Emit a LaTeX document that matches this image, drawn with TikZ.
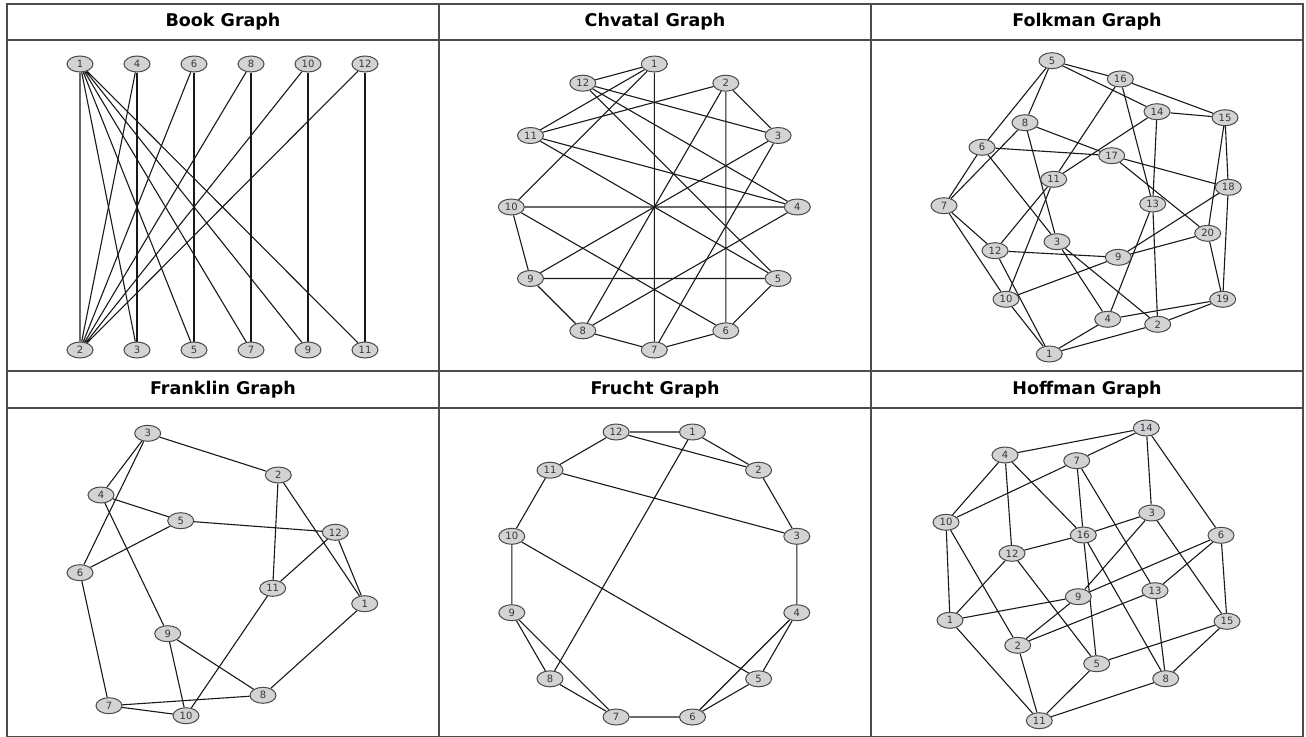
\documentclass[tikz,border=0pt]{standalone}
\usepackage{fontspec}
\setmainfont{DejaVu Sans}
\usepackage{tikz}
\usetikzlibrary{shapes.geometric,backgrounds}
\definecolor{vfill}{HTML}{D3D3D3}
\definecolor{vline}{HTML}{4A4A4A}
\definecolor{vtext}{HTML}{3A3440}
\tikzstyle{vertex} = [ellipse, minimum width=26pt, minimum height=16pt, inner sep=0pt, draw=vline, line width=1pt, fill=vfill, text=vtext, font=\fontsize{10}{11}\selectfont]
\tikzstyle{edge} = [line width=1.1pt, black!90]
\tikzstyle{title} = [font=\fontsize{17.5}{20}\selectfont\bfseries]
\tikzstyle{grid} = [line width=1.2pt, draw=black!70]

\begin{document}
\begin{tikzpicture}[x=1pt,y=-1pt]
 \useasboundingbox (0,0) rectangle (1306,736);
% titles
 \node[title] (tbook) at (223,22) {Book Graph};
 \node[title] (tchv) at (655,22) {Chvatal Graph};
 \node[title] (tfolk) at (1087,22) {Folkman Graph};
 \node[title] (tfran) at (223,389.5) {Franklin Graph};
 \node[title] (tfru) at (655,389.5) {Frucht Graph};
 \node[title] (thof) at (1087,389.5) {Hoffman Graph};
% book graph
 \node[vertex] (bk1) at (80,64) {1};
 \node[vertex] (bk4) at (137,64) {4};
 \node[vertex] (bk6) at (194,64) {6};
 \node[vertex] (bk8) at (251,64) {8};
 \node[vertex] (bk10) at (308,64) {10};
 \node[vertex] (bk12) at (365,64) {12};
 \node[vertex] (bk2) at (80,350) {2};
 \node[vertex] (bk3) at (137,350) {3};
 \node[vertex] (bk5) at (194,350) {5};
 \node[vertex] (bk7) at (251,350) {7};
 \node[vertex] (bk9) at (308,350) {9};
 \node[vertex] (bk11) at (365,350) {11};
% chvatal graph
 \node[vertex] (cv1) at (654.3,64) {1};
 \node[vertex] (cv2) at (725.8,83.2) {2};
 \node[vertex] (cv3) at (778.1,135.5) {3};
 \node[vertex] (cv4) at (797.3,207) {4};
 \node[vertex] (cv5) at (778.1,278.5) {5};
 \node[vertex] (cv6) at (725.8,330.8) {6};
 \node[vertex] (cv7) at (654.3,350) {7};
 \node[vertex] (cv8) at (582.8,330.8) {8};
 \node[vertex] (cv9) at (530.5,278.5) {9};
 \node[vertex] (cv10) at (511.3,207) {10};
 \node[vertex] (cv11) at (530.5,135.5) {11};
 \node[vertex] (cv12) at (582.8,83.2) {12};
% folkman graph
 \node[vertex] (fk5) at (1052,60.7) {5};
 \node[vertex] (fk16) at (1120.3,79) {16};
 \node[vertex] (fk14) at (1157,111.7) {14};
 \node[vertex] (fk15) at (1225,117.7) {15};
 \node[vertex] (fk8) at (1025,122.7) {8};
 \node[vertex] (fk6) at (982,147.3) {6};
 \node[vertex] (fk17) at (1111.7,155.7) {17};
 \node[vertex] (fk11) at (1053.7,179.3) {11};
 \node[vertex] (fk18) at (1228.3,187.3) {18};
 \node[vertex] (fk7) at (944,205.7) {7};
 \node[vertex] (fk13) at (1152.7,204) {13};
 \node[vertex] (fk20) at (1207.7,233.3) {20};
 \node[vertex] (fk3) at (1057,241.7) {3};
 \node[vertex] (fk12) at (995,250.7) {12};
 \node[vertex] (fk9) at (1118.3,257.3) {9};
 \node[vertex] (fk10) at (1006,299.3) {10};
 \node[vertex] (fk19) at (1222.7,299.3) {19};
 \node[vertex] (fk4) at (1107.7,319.3) {4};
 \node[vertex] (fk2) at (1157.7,324.3) {2};
 \node[vertex] (fk1) at (1049.3,354) {1};
% franklin graph
 \node[vertex] (fr3) at (147.7,433.3) {3};
 \node[vertex] (fr2) at (278.3,475) {2};
 \node[vertex] (fr4) at (101,495) {4};
 \node[vertex] (fr5) at (180.7,520.7) {5};
 \node[vertex] (fr12) at (335.3,532.3) {12};
 \node[vertex] (fr6) at (80,572.7) {6};
 \node[vertex] (fr11) at (272.7,588.3) {11};
 \node[vertex] (fr1) at (364.7,603.7) {1};
 \node[vertex] (fr9) at (167.7,633.7) {9};
 \node[vertex] (fr8) at (263,695.3) {8};
 \node[vertex] (fr7) at (109,705.7) {7};
 \node[vertex] (fr10) at (186,715.7) {10};
% frucht graph
 \node[vertex] (ft1) at (692.5,432) {1};
 \node[vertex] (ft2) at (758.6,470.2) {2};
 \node[vertex] (ft3) at (796.8,536.3) {3};
 \node[vertex] (ft4) at (796.8,612.7) {4};
 \node[vertex] (ft5) at (758.6,678.8) {5};
 \node[vertex] (ft6) at (692.5,717) {6};
 \node[vertex] (ft7) at (616.1,717) {7};
 \node[vertex] (ft8) at (550,678.8) {8};
 \node[vertex] (ft9) at (511.8,612.7) {9};
 \node[vertex] (ft10) at (511.8,536.3) {10};
 \node[vertex] (ft11) at (550,470.2) {11};
 \node[vertex] (ft12) at (616.1,432) {12};
% hoffman graph
 \node[vertex] (hf14) at (1146.3,428) {14};
 \node[vertex] (hf4) at (1005,455) {4};
 \node[vertex] (hf7) at (1076.7,460.7) {7};
 \node[vertex] (hf10) at (946,522.3) {10};
 \node[vertex] (hf3) at (1151.7,513) {3};
 \node[vertex] (hf16) at (1083.3,535) {16};
 \node[vertex] (hf6) at (1221,535.3) {6};
 \node[vertex] (hf12) at (1012,553.3) {12};
 \node[vertex] (hf13) at (1155,590.7) {13};
 \node[vertex] (hf9) at (1078.3,596.7) {9};
 \node[vertex] (hf1) at (950,620.3) {1};
 \node[vertex] (hf15) at (1227,621.3) {15};
 \node[vertex] (hf2) at (1017.7,645.3) {2};
 \node[vertex] (hf5) at (1096.7,663.7) {5};
 \node[vertex] (hf8) at (1165.7,678.7) {8};
 \node[vertex] (hf11) at (1039.3,720.7) {11};
 \begin{scope}[on background layer]
% table
 \draw[grid] (7,4) rectangle (1303,737);
 \draw[grid] (7,40) -- (1303,40) (7,371) -- (1303,371) (7,408) -- (1303,408);
 \draw[grid] (439,4) -- (439,737) (871,4) -- (871,737);
% edges
 \draw[edge] (bk1) -- (bk2) (bk1) -- (bk3) (bk1) -- (bk5) (bk1) -- (bk7) (bk1) -- (bk9) (bk1) -- (bk11);
 \draw[edge] (bk2) -- (bk4) (bk2) -- (bk6) (bk2) -- (bk8) (bk2) -- (bk10) (bk2) -- (bk12);
 \draw[edge] (bk4) -- (bk3) (bk6) -- (bk5) (bk8) -- (bk7) (bk10) -- (bk9) (bk12) -- (bk11);
 \draw[edge] (cv1) -- (cv12) (cv1) -- (cv11) (cv1) -- (cv10) (cv1) -- (cv7);
 \draw[edge] (cv2) -- (cv11) (cv2) -- (cv8) (cv2) -- (cv6) (cv2) -- (cv3);
 \draw[edge] (cv3) -- (cv12) (cv3) -- (cv9) (cv3) -- (cv7);
 \draw[edge] (cv4) -- (cv12) (cv4) -- (cv11) (cv4) -- (cv10) (cv4) -- (cv8);
 \draw[edge] (cv5) -- (cv12) (cv5) -- (cv11) (cv5) -- (cv9) (cv5) -- (cv6);
 \draw[edge] (cv6) -- (cv10) (cv6) -- (cv7) (cv7) -- (cv8) (cv8) -- (cv9) (cv9) -- (cv10);
 \draw[edge] (fk5) -- (fk16) (fk5) -- (fk14) (fk5) -- (fk8) (fk5) -- (fk6);
 \draw[edge] (fk16) -- (fk15) (fk16) -- (fk13) (fk16) -- (fk11);
 \draw[edge] (fk14) -- (fk15) (fk14) -- (fk13) (fk14) -- (fk11);
 \draw[edge] (fk15) -- (fk18) (fk15) -- (fk20);
 \draw[edge] (fk8) -- (fk7) (fk8) -- (fk17) (fk8) -- (fk3);
 \draw[edge] (fk6) -- (fk7) (fk6) -- (fk17) (fk6) -- (fk3);
 \draw[edge] (fk17) -- (fk18) (fk17) -- (fk20) (fk11) -- (fk12) (fk11) -- (fk10);
 \draw[edge] (fk18) -- (fk19) (fk18) -- (fk9) (fk7) -- (fk12) (fk7) -- (fk10);
 \draw[edge] (fk13) -- (fk4) (fk13) -- (fk2) (fk20) -- (fk9) (fk20) -- (fk19);
 \draw[edge] (fk3) -- (fk4) (fk3) -- (fk2) (fk12) -- (fk9) (fk12) -- (fk1);
 \draw[edge] (fk9) -- (fk10) (fk10) -- (fk1) (fk19) -- (fk4) (fk19) -- (fk2);
 \draw[edge] (fk4) -- (fk1) (fk2) -- (fk1);
 \draw[edge] (fr3) -- (fr2) (fr3) -- (fr4) (fr3) -- (fr6) (fr2) -- (fr11) (fr2) -- (fr1);
 \draw[edge] (fr4) -- (fr5) (fr4) -- (fr9) (fr5) -- (fr6) (fr5) -- (fr12);
 \draw[edge] (fr12) -- (fr11) (fr12) -- (fr1) (fr6) -- (fr7) (fr11) -- (fr10);
 \draw[edge] (fr1) -- (fr8) (fr9) -- (fr8) (fr9) -- (fr10) (fr8) -- (fr7) (fr7) -- (fr10);
 \draw[edge] (ft1) -- (ft2) -- (ft3) -- (ft4) -- (ft5) -- (ft6) -- (ft7) -- (ft8)
                   -- (ft9) -- (ft10) -- (ft11) -- (ft12) -- (ft1);
 \draw[edge] (ft12) -- (ft2) (ft1) -- (ft8) (ft11) -- (ft3) (ft10) -- (ft5) (ft9) -- (ft7) (ft4) -- (ft6);
 \draw[edge] (hf14) -- (hf4) (hf14) -- (hf7) (hf14) -- (hf3) (hf14) -- (hf6);
 \draw[edge] (hf4) -- (hf10) (hf4) -- (hf12) (hf4) -- (hf16);
 \draw[edge] (hf7) -- (hf10) (hf7) -- (hf16) (hf7) -- (hf13);
 \draw[edge] (hf10) -- (hf1) (hf10) -- (hf2);
 \draw[edge] (hf3) -- (hf16) (hf3) -- (hf9) (hf3) -- (hf15);
 \draw[edge] (hf16) -- (hf12) (hf16) -- (hf5) (hf16) -- (hf8);
 \draw[edge] (hf6) -- (hf9) (hf6) -- (hf13) (hf6) -- (hf15);
 \draw[edge] (hf12) -- (hf1) (hf12) -- (hf5) (hf13) -- (hf2) (hf13) -- (hf8);
 \draw[edge] (hf9) -- (hf1) (hf9) -- (hf2) (hf1) -- (hf11);
 \draw[edge] (hf15) -- (hf5) (hf15) -- (hf8) (hf2) -- (hf11) (hf5) -- (hf11) (hf8) -- (hf11);
 \end{scope}
\end{tikzpicture}
\end{document}
